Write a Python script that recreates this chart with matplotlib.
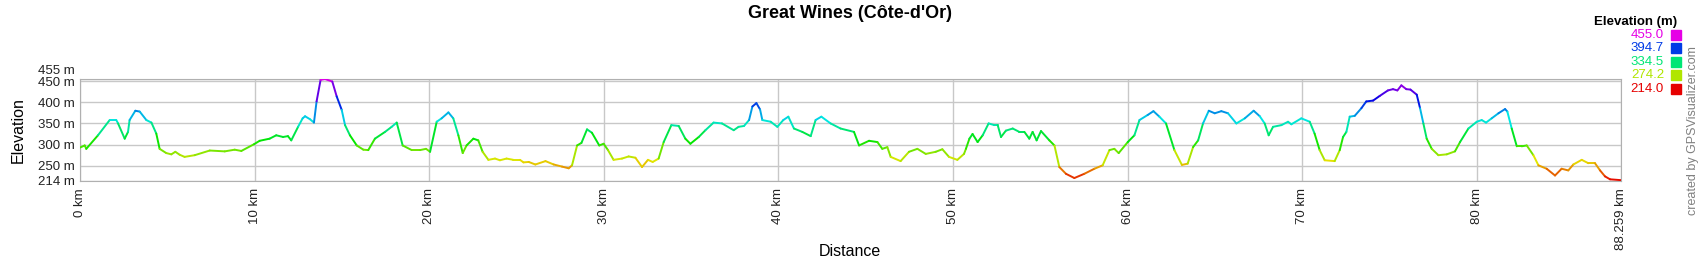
"""
Elevation profile of the "Great Wines (Côte-d'Or)" route, drawn the way
GPSVisualizer draws it: a line coloured by height, red at the bottom and
magenta at the top.
"""
import matplotlib
matplotlib.use("Agg")

import matplotlib.pyplot as plt
import numpy as np
from matplotlib import colors
from matplotlib.collections import LineCollection
from matplotlib.patches import Rectangle
from matplotlib.transforms import ScaledTranslation

plt.rcParams["font.family"] = ["Liberation Sans", "DejaVu Sans"]

TITLE = "Great Wines (Côte-d'Or)"

# distance along the route (km) and the height there (m)
DISTANCE_KM = [
    0.00, 0.27, 0.36, 1.03, 1.70, 2.08, 2.18, 2.56, 2.75, 2.84, 3.17, 3.42,
    3.80, 4.09, 4.37, 4.56, 4.94, 5.23, 5.46, 5.71, 5.99, 6.57, 7.43, 8.29,
    8.86, 9.24, 9.97, 10.29, 10.86, 11.24, 11.63, 11.91, 12.10, 12.49, 12.75,
    12.89, 13.17, 13.40, 13.55, 13.78, 14.03, 14.45, 14.70, 14.99, 15.18,
    15.46, 15.85, 16.23, 16.51, 16.89, 17.47, 17.85, 18.14, 18.48, 19.00,
    19.47, 19.82, 20.05, 20.43, 20.71, 21.10, 21.38, 21.67, 21.92, 22.14,
    22.53, 22.81, 23.06, 23.39, 23.77, 24.05, 24.43, 24.82, 25.20,
    25.40, 25.70, 26.08, 26.66, 27.13, 27.61, 27.99, 28.18, 28.47, 28.72,
    29.04, 29.32, 29.74, 29.99, 30.24, 30.56, 31.04, 31.42, 31.81, 32.19,
    32.53, 32.80, 33.14, 33.43, 33.87, 34.29, 34.67, 34.96, 35.44, 35.82,
    36.29, 36.77, 37.44, 37.72, 38.03,
    38.32, 38.51, 38.74, 38.95, 39.08, 39.56, 39.94, 40.28, 40.57, 40.89,
    41.37, 41.85, 42.13, 42.46, 42.99, 43.56, 44.33, 44.62, 45.19, 45.67,
    45.95, 46.24, 46.43, 47.00, 47.48, 47.96, 48.44, 49.01, 49.39, 49.77,
    50.25, 50.63, 50.74, 50.94,
    51.12, 51.41, 51.70, 52.04, 52.37, 52.56, 52.75, 53.03, 53.42, 53.80,
    54.09, 54.37, 54.56, 54.79, 55.04, 55.52, 55.81, 56.09, 56.47, 56.95,
    57.52, 58.10, 58.57, 58.96, 59.24, 59.49, 60.01, 60.39, 60.68, 61.15,
    61.48, 61.82, 62.20, 62.68, 63.11, 63.44,
    63.75, 64.04, 64.32, 64.65, 64.99, 65.37, 65.75, 66.23, 66.71, 67.22,
    67.57, 67.85, 68.08, 68.33, 68.81, 69.19, 69.38, 69.95, 70.43, 70.71,
    71.00, 71.29, 71.86, 72.15, 72.34, 72.53, 72.72, 73.01, 73.39, 73.67,
    74.06, 74.44, 74.91, 75.20, 75.45, 75.68, 75.96, 76.20,
    76.56, 76.75, 76.94, 77.13, 77.42, 77.80, 78.28, 78.75, 79.04, 79.52,
    80.00, 80.28, 80.53, 80.85, 81.24, 81.62, 81.75, 82.00, 82.29, 82.57,
    82.86, 83.24, 83.53, 84.00, 84.48, 84.86, 85.24, 85.53, 86.01, 86.39,
    86.77, 87.06, 87.34, 87.63, 88.259,
]
ELEVATION_M = [
    293, 298, 290, 322, 358, 358, 350, 314, 330, 358, 380, 378,
    358, 352, 326, 290, 280, 277, 283, 276, 271, 275, 286, 284,
    288, 285, 301, 309, 314, 322, 318, 320, 310, 342, 362,
    367, 360, 352, 402, 453, 455, 449, 414, 382, 346,
    322, 298, 288, 287, 314, 330, 342, 352, 298, 287,
    287, 290, 283, 354, 362, 376, 362, 322, 280, 298,
    314, 310, 283, 264, 267, 263, 267, 264, 264,
    258, 259, 253, 261, 253, 248, 244, 251, 298, 304,
    336, 328, 298, 302, 287, 264, 267, 272, 269, 247,
    264, 259, 267, 306, 346, 344, 314, 302, 318, 334,
    352, 350, 334, 342, 344,
    358, 390, 398, 383, 358, 354, 342, 358, 366, 338,
    330, 320, 358, 366, 350, 338, 330, 298, 309, 306,
    290, 294, 271, 261, 283, 290, 278, 283, 289, 271,
    264, 278, 290, 314,
    325, 306, 322, 350, 346, 346, 318, 333, 338, 330,
    330, 314, 330, 310, 332, 310, 298, 247, 231, 221,
    231, 243, 251, 287, 290, 280, 306, 322, 358, 370,
    379, 366, 350, 287, 252, 255,
    294, 310, 350, 380, 374, 379, 374, 350, 362, 380,
    367, 350, 322, 342, 346, 354, 348, 362, 354, 326,
    287, 263, 261, 287, 318, 330, 366, 368, 386, 402,
    404, 415, 428, 431, 428, 440, 431, 430,
    418, 386, 350, 314, 290, 275, 277, 284, 306, 338,
    354, 358, 352, 362, 374, 384, 378, 338, 296, 296,
    298, 275, 251, 243, 227, 243, 239, 253, 264, 256,
    256, 239, 225, 218, 216,
]

Y_TICKS = [214, 250, 300, 350, 400, 450, 455]
X_TICKS = [0, 10, 20, 30, 40, 50, 60, 70, 80, 88.259]
LEGEND_LEVELS = [455.0, 394.7, 334.5, 274.2, 214.0]
ELEV_MIN, ELEV_MAX = 214.0, 455.0

W, H = 1700, 260


def hue_cmap():
    """Red -> yellow -> green -> blue -> magenta, like GPSVisualizer"""
    hues = np.linspace(0, 300 / 360, 256)
    hsv = np.column_stack([hues, np.ones(256), np.full(256, 0.9)])
    return colors.ListedColormap(colors.hsv_to_rgb(hsv))


def px(x, y):
    """pixel position (from top left) to figure fraction"""
    return x / W, 1 - y / H


def draw_profile(fig, cmap, norm):
    ax = fig.add_axes([80 / W, 1 - 181 / H, 1541 / W, 102 / H])

    dist = np.array(DISTANCE_KM)
    elev = np.array(ELEVATION_M, dtype=float)

    # one segment per pair of points, coloured by its mean height
    pts = np.column_stack([dist, elev]).reshape(-1, 1, 2)
    segs = np.concatenate([pts[:-1], pts[1:]], axis=1)
    lc = LineCollection(segs, cmap=cmap, norm=norm, linewidth=1.4,
                        capstyle="round", joinstyle="round", zorder=3)
    lc.set_array((elev[:-1] + elev[1:]) / 2)
    ax.add_collection(lc)

    ax.set_xlim(0, 88.259)
    ax.set_ylim(ELEV_MIN, ELEV_MAX)

    ax.set_yticks(Y_TICKS)
    ax.set_yticklabels(["%d m" % v for v in Y_TICKS])
    ax.set_xticks(X_TICKS)
    ax.set_xticklabels(["%g km" % v for v in X_TICKS], rotation=90)
    ax.tick_params(length=0, labelsize=9.5, colors="#222222")
    ax.tick_params(axis="y", pad=4)
    ax.tick_params(axis="x", pad=5)

    # the top label sits just above the 450 one so they don't collide
    top = ax.get_yticklabels()[-1]
    top.set_transform(top.get_transform()
                      + ScaledTranslation(0, 7 / 72, fig.dpi_scale_trans))

    ax.grid(True, color="#c8c8c8", linewidth=1)
    ax.set_axisbelow(True)
    for sp in ax.spines.values():
        sp.set_color("#b0b0b0")
    return ax


def draw_legend(fig, cmap, norm):
    x, y = px(1677, 22)
    fig.text(x, y, "Elevation (m)", ha="right", va="center",
             fontsize=9.5, fontweight="bold")
    for i, lvl in enumerate(LEGEND_LEVELS):
        c = cmap(norm(lvl))
        yc = 35 + i * 13.4
        tx, ty = px(1664, yc)
        fig.text(tx, ty, "%.1f" % lvl, ha="right", va="center",
                 fontsize=9.5, color=c)
        rx, ry = px(1671, yc + 5)
        fig.patches.append(Rectangle((rx, ry), 10 / W, 10 / H, color=c,
                                     transform=fig.transFigure, figure=fig))


def main():
    fig = plt.figure(figsize=(W / 100, H / 100), dpi=100)
    cmap = hue_cmap()
    norm = colors.Normalize(ELEV_MIN, ELEV_MAX)

    draw_profile(fig, cmap, norm)

    fig.text(*px(850, 14), TITLE, ha="center", va="center",
             fontsize=13, fontweight="bold")
    fig.text(*px(18, 130), "Elevation", rotation=90, ha="center",
             va="center", fontsize=11.5)
    fig.text(*px(850, 251), "Distance", ha="center", va="center",
             fontsize=11.5)
    fig.text(*px(1693, 131), "created by GPSVisualizer.com", rotation=90,
             ha="center", va="center", fontsize=9, color="#808080")

    draw_legend(fig, cmap, norm)

    fig.savefig("out.png", dpi=100)
    plt.close(fig)


if __name__ == "__main__":
    main()
